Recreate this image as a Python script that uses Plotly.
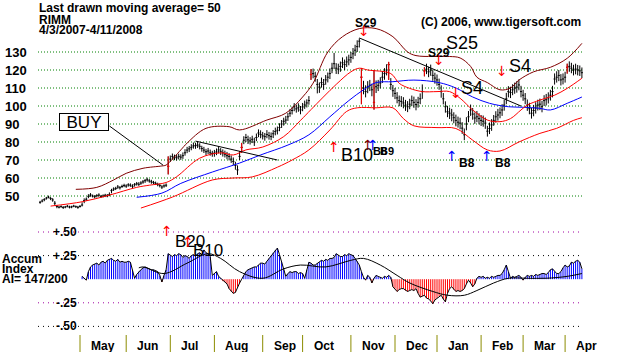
import plotly.graph_objects as go

# ---------------- data ----------------
# x axis = trading-day index, day 0 = 4/3/2007, last day = 4/11/2008
month_names = ["May", "Jun", "Jul", "Aug", "Sep", "Oct", "Nov", "Dec", "Jan", "Feb", "Mar", "Apr"]
month_start_day = [19, 41, 62, 83, 106, 125, 148, 169, 189, 210, 230, 250]

close_px = [
    # Apr 2007
    46.5, 47.2, 48.0, 48.8, 49.3, 48.6, 47.8, 46.0, 44.2, 43.8, 44.1, 43.6, 43.9, 44.3, 43.8, 44.0, 44.4, 44.1, 43.7,
    # May
    44.2, 45.0, 47.5, 48.2, 49.8, 50.6, 50.0, 49.6, 50.2, 50.5, 49.8, 50.0, 50.4, 50.1, 50.8, 53.0, 53.8, 54.2, 55.0, 54.6, 55.3, 55.8,
    # Jun
    55.5, 56.2, 56.0, 55.4, 56.3, 56.8, 56.5, 57.2, 57.8, 58.5, 59.0, 58.4, 57.9, 57.5, 57.0, 56.4, 55.8, 55.0, 55.6, 56.0, 66.5,
    # Jul
    70.5, 72.0, 71.5, 71.2, 72.0, 71.6, 72.4, 74.0, 75.5, 76.2, 77.0, 77.8, 78.0, 78.3, 77.6, 76.4, 75.5, 74.6, 75.0, 74.0, 73.6,
    # Aug
    73.8, 74.5, 75.6, 74.8, 74.0, 73.2, 72.4, 72.0, 70.5, 69.2, 67.0, 64.5, 72.0, 77.0, 81.0, 82.5, 81.2, 80.6, 81.5, 80.0, 82.5, 85.0, 84.2,
    # Sep
    83.4, 83.0, 84.2, 83.5, 83.0, 84.6, 85.8, 86.5, 88.0, 90.0, 91.5, 92.2, 94.0, 96.0, 97.5, 99.6, 98.4, 99.0, 97.8,
    # Oct
    99.5, 100.6, 101.7, 103.0, 117.5, 118.0, 116.5, 112.0, 110.5, 113.0, 112.0, 114.5, 116.0, 118.0, 121.0, 123.5, 121.0, 120.5, 122.0, 124.0, 123.0, 124.5, 125.6,
    # Nov
    127.0, 129.0, 131.0, 133.0, 136.0, 116.0, 110.0, 108.0, 110.6, 111.5, 109.0, 102.0, 110.7, 111.5, 112.8, 116.0, 118.0, 120.0, 123.0, 112.0, 108.5,
    # Dec
    107.0, 104.5, 103.0, 102.5, 101.7, 100.5, 99.6, 101.0, 103.0, 102.0, 100.8, 102.0, 104.0, 108.0, 119.5, 120.5, 119.0, 120.0, 117.0, 115.5,
    # Jan 2008
    114.5, 112.0, 108.0, 104.0, 99.6, 96.8, 96.0, 95.0, 93.5, 92.0, 91.0, 90.5, 87.7, 84.0, 90.0, 94.0, 97.8, 95.5, 93.3, 94.0, 93.0,
    # Feb
    92.0, 91.5, 90.5, 86.0, 87.5, 89.5, 92.0, 94.0, 95.0, 96.2, 97.8, 100.5, 104.0, 108.0, 107.5, 109.0, 110.0, 110.5, 111.7, 108.0,
    # Mar
    106.0, 104.0, 100.5, 98.5, 96.0, 97.5, 98.9, 100.5, 101.0, 99.6, 103.0, 103.5, 104.5, 106.0, 108.0, 115.0, 116.0, 117.0, 114.5, 115.0,
    # Apr
    116.0, 121.5, 122.0, 121.0, 120.0, 120.5, 120.0, 119.5, 118.5,
]
# how far each day's high sits above the close / low sits below it
bar_up = [
    0.8, 1.0, 0.8, 0.7, 0.9, 0.8, 1.0, 1.2, 0.8, 0.6, 0.7, 0.8, 0.6, 0.7, 0.8, 0.6, 0.7, 0.6, 0.8,
    0.8, 1.5, 1.2, 1.0, 1.2, 1.0, 0.8, 0.9, 0.8, 1.0, 0.8, 0.9, 0.8, 1.0, 1.2, 1.0, 1.0, 0.9, 1.1, 0.9, 1.0, 1.0,
    1.0, 0.9, 1.0, 1.1, 0.9, 1.0, 1.2, 1.0, 1.1, 1.0, 1.2, 1.0, 1.1, 0.9, 1.0, 1.0, 1.1, 1.0, 0.9, 1.0, 5.5,
    2.0, 1.6, 1.5, 1.8, 1.5, 1.6, 1.8, 2.0, 1.8, 1.6, 1.8, 1.9, 1.6, 1.8, 1.7, 1.5, 1.8, 1.6, 1.7, 1.8, 1.5,
    1.8, 1.9, 2.0, 1.8, 1.9, 2.0, 2.1, 1.8, 2.0, 2.2, 2.0, 2.5, 3.0, 2.5, 2.2, 2.0, 2.3, 2.1, 2.0, 2.4, 2.2, 2.0, 2.3,
    2.2, 2.0, 2.4, 2.1, 2.3, 2.0, 2.2, 2.1, 2.4, 2.2, 2.0, 2.3, 2.1, 2.4, 2.2, 2.0, 2.3, 2.5, 2.2,
    2.2, 2.4, 2.0, 2.5, 3.0, 2.8, 2.5, 3.0, 2.6, 2.8, 3.0, 2.7, 2.6, 2.9, 3.0, 6.0, 2.8, 3.0, 2.7, 3.0, 2.8, 3.0, 2.9,
    3.0, 3.2, 3.0, 3.5, 1.6, 5.0, 4.0, 3.5, 3.2, 3.0, 3.4, 18.0, 3.5, 3.0, 3.2, 3.4, 3.0, 3.2, 1.5, 3.5, 3.2,
    3.0, 3.2, 2.8, 3.0, 3.2, 2.9, 3.1, 3.0, 2.8, 3.2, 3.0, 3.1, 3.0, 4.0, 2.0, 3.0, 2.8, 3.0, 3.2, 3.0,
    3.0, 3.2, 3.5, 3.2, 3.0, 3.3, 3.1, 3.4, 3.0, 3.2, 3.1, 3.0, 3.3, 3.5, 3.8, 3.2, 3.0, 3.4, 3.1, 3.2, 3.0,
    3.0, 3.2, 3.1, 3.0, 3.3, 3.2, 3.0, 3.1, 3.4, 3.0, 3.2, 3.1, 3.3, 3.0, 3.2, 3.1, 3.0, 3.3, 3.1, 3.2,
    3.0, 3.2, 3.1, 3.3, 3.0, 3.1, 3.2, 3.0, 3.1, 3.3, 3.0, 3.2, 3.1, 3.0, 3.2, 3.1, 3.3, 3.0, 3.2, 3.1,
    3.0, 2.0, 2.8, 3.0, 2.9, 3.0, 2.8, 3.0, 2.9,
]
bar_dn = [
    0.8, 0.7, 0.9, 0.8, 0.6, 0.9, 1.0, 1.2, 1.0, 0.7, 0.6, 0.8, 0.7, 0.6, 0.7, 0.8, 0.6, 0.7, 0.8,
    0.6, 0.8, 1.5, 0.9, 1.0, 1.0, 0.8, 0.9, 1.0, 0.8, 0.9, 0.8, 1.0, 0.8, 0.9, 1.5, 1.0, 0.9, 1.0, 1.0, 0.8, 0.9,
    1.0, 1.0, 0.9, 1.0, 1.1, 1.0, 0.9, 1.0, 1.0, 1.2, 1.0, 1.0, 1.1, 1.0, 0.9, 1.0, 1.0, 1.1, 1.0, 1.0, 4.5,
    1.5, 1.8, 1.6, 1.5, 1.7, 1.5, 1.8, 1.6, 1.7, 1.8, 1.6, 1.5, 1.8, 1.6, 1.7, 1.8, 1.6, 1.9, 1.7, 1.6, 1.8,
    2.0, 1.8, 1.9, 2.0, 2.1, 1.8, 2.0, 2.2, 2.1, 2.0, 2.4, 2.8, 2.0, 3.0, 2.2, 2.5, 2.3, 2.0, 2.1, 2.2, 2.0, 2.3, 2.1,
    2.0, 2.3, 2.1, 2.2, 2.0, 2.4, 2.1, 2.3, 2.0, 2.2, 2.4, 2.1, 2.3, 2.0, 2.2, 2.5, 2.1, 2.2, 2.4,
    2.4, 2.2, 2.5, 2.3, 3.0, 2.6, 3.0, 5.0, 3.2, 2.8, 3.0, 2.7, 2.9, 3.0, 2.8, 3.0, 3.2, 2.8, 3.0, 2.9, 3.1, 2.8, 3.0,
    3.0, 3.0, 3.2, 3.0, 3.5, 15.0, 3.5, 3.2, 3.5, 3.2, 3.6, 4.0, 3.5, 3.2, 3.0, 3.2, 3.4, 3.0, 8.5, 3.0, 3.4,
    3.2, 3.0, 3.1, 2.9, 3.0, 3.2, 3.0, 2.8, 3.1, 3.0, 3.2, 2.9, 3.0, 4.0, 3.0, 2.8, 3.0, 3.2, 3.0, 3.1,
    3.2, 3.0, 3.4, 3.1, 3.3, 3.0, 3.2, 3.5, 3.1, 3.3, 3.0, 3.4, 3.2, 3.0, 3.5, 3.0, 3.3, 3.1, 3.2, 3.0, 3.2,
    3.1, 3.0, 3.2, 3.0, 3.1, 3.3, 3.0, 3.2, 3.1, 3.0, 3.3, 3.1, 3.0, 3.2, 3.1, 3.0, 3.2, 3.1, 3.0, 3.2,
    3.1, 3.0, 3.2, 3.1, 3.0, 3.2, 3.1, 3.0, 3.3, 3.1, 3.0, 3.2, 3.1, 3.0, 3.2, 3.1, 3.0, 3.2, 3.1, 3.0,
    3.0, 3.5, 3.0, 2.8, 3.0, 2.9, 3.0, 2.8, 3.0,
]
signal_bar_days = [61, 96, 129, 153, 159, 166, 183, 251]

# moving-average and band lines (sampled where read)
upper_band_days = [17, 27, 35, 41, 49, 58, 60, 67, 70, 79, 90, 95, 108, 117, 125, 130, 137, 144, 152, 160,
                   168, 175, 179, 187, 195, 200, 205, 208, 213, 219, 224, 228, 235, 243, 251, 258]
upper_band_vals = [53.7, 54.8, 58.9, 62.6, 65.4, 66.7, 67.2, 75.6, 79.4, 87.6, 88.5, 86.7, 92.2, 96.0, 105.0, 112.7, 130.0, 138.5, 143.0, 143.0,
                   138.5, 130.0, 128.0, 127.5, 127.5, 126.7, 122.0, 116.0, 113.0, 109.0, 110.0, 114.4, 119.0, 121.5, 126.5, 134.8]
red_upper_days = [5, 20, 33, 46, 52, 60, 65, 76, 86, 92, 98, 106, 116, 124, 129, 141, 148, 152, 156, 167,
                  171, 176, 182, 189, 195, 200, 206, 213, 219, 224, 229, 232, 238, 245, 251, 258]
red_upper_vals = [44.4, 46.8, 50.5, 54.8, 56.0, 57.5, 60.7, 71.0, 74.0, 72.8, 75.6, 77.2, 83.0, 92.0, 98.0, 112.0, 119.0, 121.0, 120.0, 118.0,
                  112.6, 109.8, 108.0, 108.0, 108.0, 104.3, 97.8, 92.2, 91.3, 93.0, 97.8, 100.5, 103.3, 106.0, 109.8, 115.4]
ma50_days = [46, 58, 67, 82, 95, 105, 118, 128, 138, 147, 154, 160, 168, 178, 190, 198, 206, 214, 223, 230, 238, 243, 251, 258]
ma50_vals = [49.3, 51.6, 57.0, 63.3, 68.3, 72.8, 78.3, 84.0, 94.0, 103.0, 109.0, 113.0, 113.5, 114.4, 113.0, 110.0, 105.0, 101.5, 99.6, 99.3, 98.7, 97.8, 101.5, 105.0]
red_lower_days = [48, 63, 82, 92, 101, 113, 120, 128, 138, 146, 151, 160, 168, 173, 178, 189, 198, 206, 213, 219, 228, 238, 246, 254, 258]
red_lower_vals = [43.3, 49.4, 58.9, 60.0, 60.6, 66.0, 70.0, 75.6, 86.7, 97.0, 99.0, 99.0, 99.0, 93.0, 89.0, 88.0, 87.5, 81.0, 75.6, 75.0, 80.0, 84.8, 87.6, 92.0, 93.5]

trend1_days = [152, 229]
trend1_vals = [137.8, 100.0]
trend2_days = [74, 113]
trend2_vals = [80.5, 70.0]
buy_line_days = [33, 58.5]
buy_line_vals = [88.9, 67.2]

price_ticks = [130, 120, 110, 100, 90, 80, 70, 60, 50]

# Accumulation index, one value per day from day 20
ai_first_day = 20
ai_vals = [
    0.03, 0.01, -0.01, 0.08, 0.13, 0.15, 0.16, 0.17, 0.15, 0.18,
    0.19, 0.17, 0.20, 0.21, 0.22, 0.20, 0.19, 0.21, 0.18, 0.19,
    0.18, 0.18, 0.19, 0.18, 0.10, 0.01, 0.05, 0.08, 0.10, 0.12,
    0.13, 0.12, 0.11, 0.10, 0.10, 0.09, 0.08, 0.04, -0.03, 0.04,
    0.10, 0.27, 0.25, 0.24, 0.26, 0.25, 0.27, 0.26, 0.23, 0.25,
    0.24, 0.22, 0.25, 0.26, 0.24, 0.27, 0.28, 0.26, 0.31, 0.28,
    0.27, 0.24, 0.04, 0.06, 0.08, 0.03, 0.01, -0.02, -0.03, -0.05,
    -0.10, -0.13, -0.15, -0.14, -0.08, -0.04, 0.00, 0.04, 0.08, 0.10,
    0.11, 0.12, 0.13, 0.13, 0.15, 0.17, 0.17, 0.16, 0.19, 0.22,
    0.25, 0.28, 0.31, 0.33, 0.26, 0.18, 0.10, 0.03, 0.06, 0.08,
    0.07, 0.08, 0.08, 0.06, 0.07, 0.06, 0.01, 0.10, 0.18, 0.17,
    0.15, 0.15, 0.17, 0.18, 0.20, 0.19, 0.21, 0.20, 0.22, 0.22,
    0.23, 0.27, 0.25, 0.24, 0.24, 0.26, 0.25, 0.27, 0.26, 0.25,
    0.22, 0.19, 0.15, 0.08, 0.02, -0.01, 0.04, 0.02, -0.04, 0.01,
    0.04, 0.03, 0.02, 0.01, 0.03, 0.02, 0.04, 0.02, -0.08, -0.10,
    -0.13, -0.11, -0.10, -0.10, -0.12, -0.13, -0.12, -0.11, -0.12, -0.10,
    -0.15, -0.19, -0.18, -0.17, -0.20, -0.21, -0.23, -0.26, -0.22, -0.20,
    -0.18, -0.17, -0.21, -0.24, -0.15, -0.10, -0.08, -0.11, -0.13, -0.12,
    -0.13, -0.12, -0.10, -0.05, -0.01, -0.04, -0.08, -0.05, 0.01, 0.03,
    0.02, 0.03, 0.01, 0.02, 0.01, 0.03, 0.02, 0.03, 0.04, 0.04,
    0.06, 0.10, 0.15, 0.08, 0.01, 0.03, 0.02, 0.03, 0.04, 0.02,
    -0.01, 0.02, 0.04, 0.03, 0.04, 0.03, 0.05, 0.04, 0.05, 0.06,
    0.06, 0.05, 0.07, 0.10, 0.11, 0.08, 0.06, 0.06, 0.08, 0.12,
    0.15, 0.13, 0.14, 0.18, 0.17, 0.19, 0.20, 0.18, 0.11,
]
ai_ma_days = [47, 49, 59, 70, 80, 86, 95, 106, 116, 124, 136, 148, 154, 162, 170, 176, 187, 194, 202, 208, 216, 223, 232, 241, 251, 258]
ai_ma_vals = [0.12, 0.13, 0.06, 0.17, 0.27, 0.22, 0.08, 0.01, 0.11, 0.15, 0.13, 0.20, 0.22, 0.15, 0.04, -0.04, -0.13, -0.17, -0.17, -0.12, -0.04, 0.01, 0.01, 0.01, 0.03, 0.06]
ai_ticks = [0.50, 0.25, -0.25, -0.50]
ai_tick_text = ["+.50", "+.25", "-.25", "-.50"]

# signal arrows: (day, level)
sell_arrow_days = [154, 190, 198, 220]
sell_arrow_levels = [141.7, 125.6, 107.0, 119.7]
buy_arrow_days = [140, 156, 158.5, 196, 213]
buy_arrow_levels = [77.5, 78.3, 78.3, 72.2, 72.2]
buy_arrow_colors = ["#ff0000", "#800000", "#0000ff", "#0000ff", "#0000ff"]
ai_arrow_days = [60.5, 70.5]
ai_arrow_levels = [0.51, 0.39]

# ---------------- figure ----------------
W, H = 627, 352
FONT = "Liberation Sans, Arial, sans-serif"
days = list(range(len(close_px)))
assert len(bar_up) == len(close_px) == len(bar_dn) == 259
high_px = [c + u for c, u in zip(close_px, bar_up)]
low_px = [c - d for c, d in zip(close_px, bar_dn)]
ai_days = list(range(ai_first_day, ai_first_day + len(ai_vals)))


def P(xp, yp):
    return xp / W, 1 - yp / H


fig = go.Figure()

line_style = dict(mode="lines", line_shape="spline", hoverinfo="skip", showlegend=False)
fig.add_trace(go.Scatter(x=upper_band_days, y=upper_band_vals, line=dict(color="#800000", width=1), **line_style))
fig.add_trace(go.Scatter(x=red_lower_days, y=red_lower_vals, line=dict(color="#ff0000", width=1), **line_style))
fig.add_trace(go.Scatter(x=ma50_days, y=ma50_vals, line=dict(color="#0000ff", width=1), **line_style))
fig.add_trace(go.Scatter(x=red_upper_days, y=red_upper_vals, line=dict(color="#ff0000", width=1), **line_style))
for xs, ys in [(trend1_days, trend1_vals), (trend2_days, trend2_vals), (buy_line_days, buy_line_vals)]:
    fig.add_trace(go.Scatter(x=xs, y=ys, mode="lines", line=dict(color="black", width=1),
                             hoverinfo="skip", showlegend=False))

fig.add_trace(go.Ohlc(x=days, open=close_px, high=high_px, low=low_px, close=close_px,
                      increasing_line_color="black", decreasing_line_color="black",
                      line_width=1, tickwidth=0.5, hoverinfo="skip", showlegend=False))
sd = signal_bar_days
fig.add_trace(go.Ohlc(x=sd, open=[close_px[i] for i in sd], high=[high_px[i] for i in sd],
                      low=[low_px[i] for i in sd], close=[close_px[i] for i in sd],
                      increasing_line_color="#ff0000", decreasing_line_color="#ff0000",
                      line_width=1, tickwidth=0.5, hoverinfo="skip", showlegend=False))

# accumulation index: thin vertical stripes from zero to each day's value
for positive, col in [(True, "#0000ff"), (False, "#ff0000")]:
    xs, ys = [], []
    for d, v in zip(ai_days, ai_vals):
        if (v >= 0) == positive:
            xs += [d, d, None]
            ys += [0, v, None]
    fig.add_trace(go.Scatter(x=xs, y=ys, yaxis="y2", mode="lines", line=dict(color=col, width=1),
                             hoverinfo="skip", showlegend=False, connectgaps=False))
fig.add_trace(go.Scatter(x=ai_days, y=ai_vals, yaxis="y2", mode="lines", line=dict(color="black", width=1),
                         hoverinfo="skip", showlegend=False))
fig.add_trace(go.Scatter(x=ai_ma_days, y=ai_ma_vals, yaxis="y2", mode="lines", line_shape="spline",
                         line=dict(color="black", width=1), hoverinfo="skip", showlegend=False))

shapes = []
for v in price_ticks:
    shapes.append(dict(type="line", xref="x", yref="y", x0=-1, x1=258.5, y0=v, y1=v, layer="below",
                       line=dict(color="#008000", width=1, dash="1px,2px")))
for i, v in enumerate(ai_ticks):
    shapes.append(dict(type="line", xref="x", yref="y2", x0=-1, x1=258.5, y0=v, y1=v, layer="below",
                       line=dict(color="#a000a0" if i % 2 == 0 else "#000000", width=1, dash="1px,4px")))
for m in month_start_day:
    shapes.append(dict(type="line", xref="x", yref="paper", x0=m, x1=m, y0=0, y1=1 - 335 / H,
                       line=dict(color="#8c8c00", width=1)))

ann = []


def text(s, xp, yp, size=12, bold=True, xanchor="left", color="black"):
    x, y = P(xp, yp)
    ann.append(dict(text=f"<b>{s}</b>" if bold else s, x=x, y=y, xref="paper", yref="paper",
                    xanchor=xanchor, yanchor="middle", showarrow=False,
                    font=dict(family=FONT, size=size, color=color)))


text("Last drawn moving average= 50", 37, 8)
text("RIMM", 37, 20.5)
text("4/3/2007-4/11/2008", 37, 30)
text("(C) 2006, www.tigersoft.com", 419, 22)
for v in price_ticks:
    ann.append(dict(text=f"<b>{v}</b>", x=3 / W, xref="paper", y=v, yref="y", xanchor="left", yanchor="middle",
                    showarrow=False, font=dict(family=FONT, size=13, color="black")))
for v, t in zip(ai_ticks, ai_tick_text):
    ann.append(dict(text=f"<b>{t}</b>", x=79 / W, xref="paper", y=v, yref="y2", xanchor="right", yanchor="middle",
                    showarrow=False, font=dict(family=FONT, size=12, color="black")))
text("Accum", 0, 259)
text("Index", 0, 269)
text("AI= 147/200", 0, 279)
for name, m in zip(month_names, month_start_day):
    ann.append(dict(text=f"<b>{name}</b>", x=m, xref="x", xshift=9, y=1 - 345.5 / H, yref="paper",
                    xanchor="left", yanchor="middle", showarrow=False,
                    font=dict(family=FONT, size=12, color="black")))

# signal labels
text("S29", 366, 22.5, xanchor="center")
text("S29", 439, 52.5, xanchor="center")
text("S25", 462, 43.5, size=18, bold=False, xanchor="center")
text("S4", 472, 88, size=18, bold=False, xanchor="center")
text("S4", 520, 66, size=18, bold=False, xanchor="center")
text("B10", 357, 155, size=18, bold=False, xanchor="center")
text("B8", 371, 151, size=11)
text("B9", 378, 151, size=11)
text("B8", 457, 162.5)
text("B8", 493, 162.5)
text("B20", 190, 241.5, size=17, bold=False, xanchor="center")
text("B10", 208, 250, size=17, bold=False, xanchor="center")

# BUY box
bx, by = P(84, 122)
ann.append(dict(text="BUY", x=bx, y=by, xref="paper", yref="paper", xanchor="center", yanchor="middle",
                showarrow=False, width=48, height=16, borderpad=0, borderwidth=1, bordercolor="black",
                bgcolor="white", font=dict(family=FONT, size=17, color="black")))

# arrows
ARW = "DejaVu Sans, sans-serif"
for d, lv in zip(sell_arrow_days, sell_arrow_levels):
    ann.append(dict(text="↓", x=d, y=lv, xref="x", yref="y", showarrow=False, xanchor="center", yanchor="middle",
                    font=dict(family=ARW, size=14, color="#ff0000")))
for d, lv, c in zip(buy_arrow_days, buy_arrow_levels, buy_arrow_colors):
    ann.append(dict(text="↑", x=d, y=lv, xref="x", yref="y", showarrow=False, xanchor="center", yanchor="middle",
                    font=dict(family=ARW, size=14, color=c)))
for d, lv in zip(ai_arrow_days, ai_arrow_levels):
    ann.append(dict(text="↑", x=d, y=lv, xref="x", yref="y2", showarrow=False, xanchor="center", yanchor="middle",
                    font=dict(family=ARW, size=14, color="#ff0000")))

x_lo = -40.1 / 2.1
x_hi = (W - 40.1) / 2.1
fig.update_layout(
    width=W, height=H, margin=dict(l=0, r=0, t=0, b=0),
    paper_bgcolor="white", plot_bgcolor="white", showlegend=False,
    xaxis=dict(range=[x_lo, x_hi], visible=False, rangeslider=dict(visible=False), fixedrange=True),
    yaxis=dict(range=[130 - (H - 52) / 1.8, 130 + 52 / 1.8], visible=False, fixedrange=True),
    yaxis2=dict(range=[-(H - 279.2) / 94.4, 279.2 / 94.4], visible=False, overlaying="y", fixedrange=True),
    shapes=shapes, annotations=ann,
)

fig.write_html("out.html")
